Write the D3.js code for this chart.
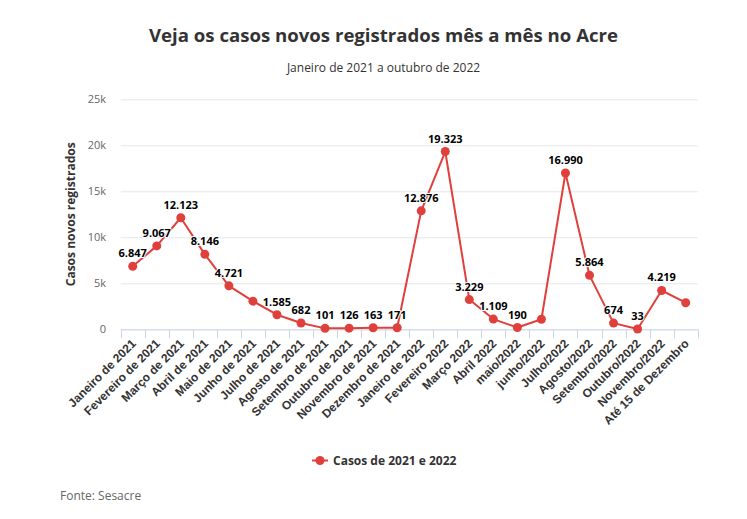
<!DOCTYPE html>
<html>
<head>
<meta charset="utf-8">
<script src="https://cdn.jsdelivr.net/npm/d3@7"></script>
<style>
	body { margin: 0; background: #fff; }
	svg { font-family: "Open Sans", "Noto Sans", sans-serif; }
</style>
</head>
<body>
<svg></svg>
<script>
/*
* Dados
*/
var meses = ["Janeiro de 2021", "Fevereiro de 2021", "Março de 2021", "Abril de 2021",
	"Maio de 2021", "Junho de 2021", "Julho de 2021", "Agosto de 2021",
	"Setembro de 2021", "Outubro de 2021", "Novembro de 2021", "Dezembro de 2021",
	"Janeiro de 2022", "Fevereiro 2022", "Março 2022", "Abril 2022",
	"maio/2022", "junho/2022", "Julho/2022", "Agosto/2022",
	"Setembro/2022", "Outubro/2022", "Novembro/2022", "Até 15 de Dezembro"];
var casos = [6847, 9067, 12123, 8146, 4721, 3060, 1585, 682, 101, 126, 163, 171,
	12876, 19323, 3229, 1109, 190, 1090, 16990, 5864, 674, 33, 4219, 2890];
// rotulos que o grafico original esconde por sobreposicao
var semRotulo = ["Junho de 2021", "junho/2022", "Até 15 de Dezembro"];
var yTicks = [0, 5000, 10000, 15000, 20000, 25000];
var yTickLabels = ["0", "5k", "10k", "15k", "20k", "25k"];

var w = 747,
	h = 519,
	vermelho = '#e0403c',
	pLeft = 120.7,
	pRight = 697.7,
	pTop = 99.3,
	pBottom = 329.3,
	svg = d3.select("svg").attr('width', w).attr('height', h);

var br = d3.formatLocale({decimal: ",", thousands: ".", grouping: [3], currency: ["R$", ""]}),
	fmt = br.format(",d");

var x = d3.scaleBand().domain(meses).range([pLeft, pRight]).paddingInner(0).paddingOuter(0),
	y = d3.scaleLinear().domain([0, 25000]).range([pBottom, pTop]);

function cx(d) { return x(d) + x.bandwidth() / 2; }

/*
* Titulos
*/
svg.append('text')
	.attr('x', 383.5).attr('y', 42)
	.attr('text-anchor', 'middle')
	.attr('fill', '#333')
	.style('font-size', '18.6px')
	.style('font-weight', 'bold')
	.text('Veja os casos novos registrados mês a mês no Acre');

svg.append('text')
	.attr('x', 383.5).attr('y', 72)
	.attr('text-anchor', 'middle')
	.attr('fill', '#333')
	.style('font-size', '12px')
	.text('Janeiro de 2021 a outubro de 2022');

/*
* Eixos
*/
var gy = svg.append('g');
gy.selectAll('line')
	.data(yTicks)
	.enter()
	.append('line')
	.attr('x1', pLeft).attr('x2', pRight)
	.attr('y1', function(d){ return y(d) + 0.5; })
	.attr('y2', function(d){ return y(d) + 0.5; })
	.attr('stroke', '#e6e6e6');
gy.selectAll('text')
	.data(yTicks)
	.enter()
	.append('text')
	.attr('x', 106)
	.attr('y', function(d){ return y(d) + 4; })
	.attr('text-anchor', 'end')
	.attr('fill', '#666')
	.style('font-size', '11px')
	.text(function(d, i){ return yTickLabels[i]; });

svg.append('text')
	.attr('transform', 'translate(75,' + ((pTop + pBottom) / 2) + ') rotate(-90)')
	.attr('text-anchor', 'middle')
	.attr('fill', '#333')
	.style('font-size', '12px')
	.style('font-weight', 'bold')
	.text('Casos novos registrados');

var xAxis = d3.axisBottom(x).tickSize(0).tickFormat('');
var gx = svg.append('g').attr('transform', 'translate(0,' + pBottom + ')').call(xAxis);
gx.select('.domain').attr('stroke', '#ccd6eb');
gx.selectAll('.tick').remove();

// marcas nos limites das categorias
var limites = meses.map(function(d){ return x(d); }).concat([pRight]);
gx.selectAll('.limite')
	.data(limites)
	.enter()
	.append('line')
	.attr('class', 'limite')
	.attr('x1', function(d){ return Math.round(d) + 0.5; })
	.attr('x2', function(d){ return Math.round(d) + 0.5; })
	.attr('y1', 0).attr('y2', 9)
	.attr('stroke', '#ccd6eb');

gx.selectAll('.rot')
	.data(meses)
	.enter()
	.append('text')
	.attr('class', 'rot')
	.attr('transform', function(d){ return 'translate(' + (cx(d) + 4) + ',15) rotate(-45)'; })
	.attr('text-anchor', 'end')
	.attr('fill', '#333')
	.style('font-size', '12px')
	.style('font-weight', 'bold')
	.text(function(d){ return d; });

/*
* Serie
*/
var pontos = meses.map(function(m, i){ return {mes: m, v: casos[i]}; });

var linha = d3.line()
	.x(function(d){ return cx(d.mes); })
	.y(function(d){ return y(d.v); });

svg.append('path')
	.datum(pontos)
	.attr('d', linha)
	.attr('fill', 'none')
	.attr('stroke', vermelho)
	.attr('stroke-width', 2)
	.attr('stroke-linejoin', 'round');

svg.selectAll('.ponto')
	.data(pontos)
	.enter()
	.append('circle')
	.attr('class', 'ponto')
	.attr('cx', function(d){ return cx(d.mes); })
	.attr('cy', function(d){ return y(d.v); })
	.attr('r', 4.5)
	.attr('fill', vermelho);

svg.selectAll('.valor')
	.data(pontos.filter(function(d){ return semRotulo.indexOf(d.mes) < 0; }))
	.enter()
	.append('text')
	.attr('class', 'valor')
	.attr('x', function(d){ return cx(d.mes); })
	.attr('y', function(d){ return y(d.v) - 9; })
	.attr('text-anchor', 'middle')
	.attr('fill', '#000')
	.attr('stroke', '#fff')
	.attr('stroke-width', 2)
	.attr('paint-order', 'stroke')
	.attr('stroke-linejoin', 'round')
	.style('font-size', '11px')
	.style('font-weight', 'bold')
	.text(function(d){ return fmt(d.v); });

/*
* Legenda e fonte
*/
var leg = svg.append('g');
leg.append('line')
	.attr('x1', 312).attr('x2', 328)
	.attr('y1', 460.5).attr('y2', 460.5)
	.attr('stroke', vermelho).attr('stroke-width', 2);
leg.append('circle')
	.attr('cx', 320).attr('cy', 460.5).attr('r', 4.5)
	.attr('fill', vermelho);
leg.append('text')
	.attr('x', 333).attr('y', 465)
	.attr('fill', '#333')
	.style('font-size', '12px')
	.style('font-weight', 'bold')
	.text('Casos de 2021 e 2022');

svg.append('text')
	.attr('x', 60).attr('y', 500)
	.attr('fill', '#666')
	.style('font-size', '12px')
	.text('Fonte: Sesacre');
</script>
</body>
</html>
